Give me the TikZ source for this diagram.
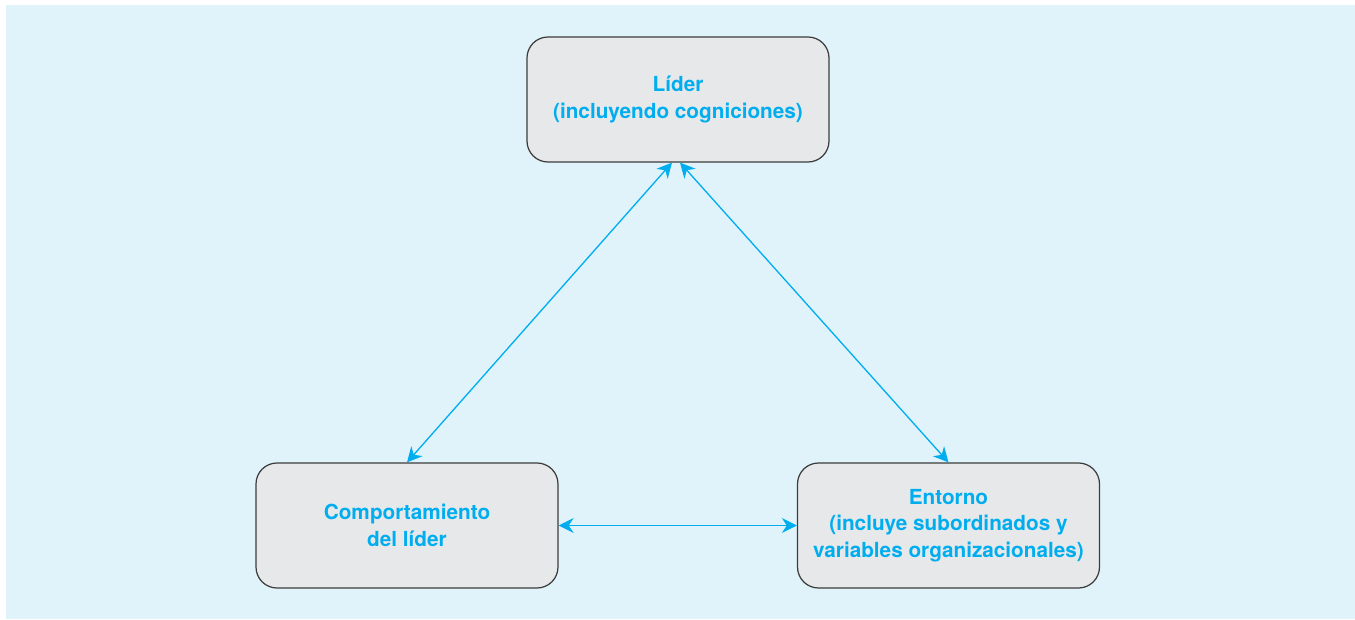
\documentclass[tikz,border=0pt]{standalone}
\usepackage{fontspec}
\setmainfont{TeX Gyre Heros}
\usepackage{xcolor}
\usetikzlibrary{arrows.meta, positioning}
\definecolor{bgblue}{RGB}{224,243,251}
\definecolor{boxgray}{RGB}{231,232,234}
\definecolor{edgegray}{RGB}{60,60,60}
\definecolor{txtcyan}{RGB}{0,174,239}
\tikzset{
  box/.style={rectangle, draw=edgegray, fill=boxgray, line width=0.7pt, rounded corners=0.42cm,
    minimum width=6.04cm, minimum height=2.5cm, text=txtcyan, align=center,
    font=\fontsize{11.8}{15.2}\selectfont\bfseries},
  link/.style={{Stealth[length=3mm,width=3mm]}-{Stealth[length=3mm,width=3mm]}, line width=0.75pt, txtcyan}
}
\begin{document}
\begin{tikzpicture}
  \useasboundingbox (0,0) rectangle (27.1,12.38);
  \fill[bgblue] (0.12,0) rectangle (27.1,12.28);
  \node[box] (lider) at (13.56,10.39) {Líder\\(incluyendo cogniciones)};
  \node[box] (comp) at (8.14,1.87) {Comportamiento\\del líder};
  \node[box] (ent) at (18.97,1.87) {Entorno\\(incluye subordinados y\\variables organizacionales)};
  \draw[link] ([xshift=-0.12cm]lider.south) -- (comp.north);
  \draw[link] ([xshift=0.04cm]lider.south) -- (ent.north);
  \draw[link] (comp.east) -- (ent.west);
\end{tikzpicture}
\end{document}
